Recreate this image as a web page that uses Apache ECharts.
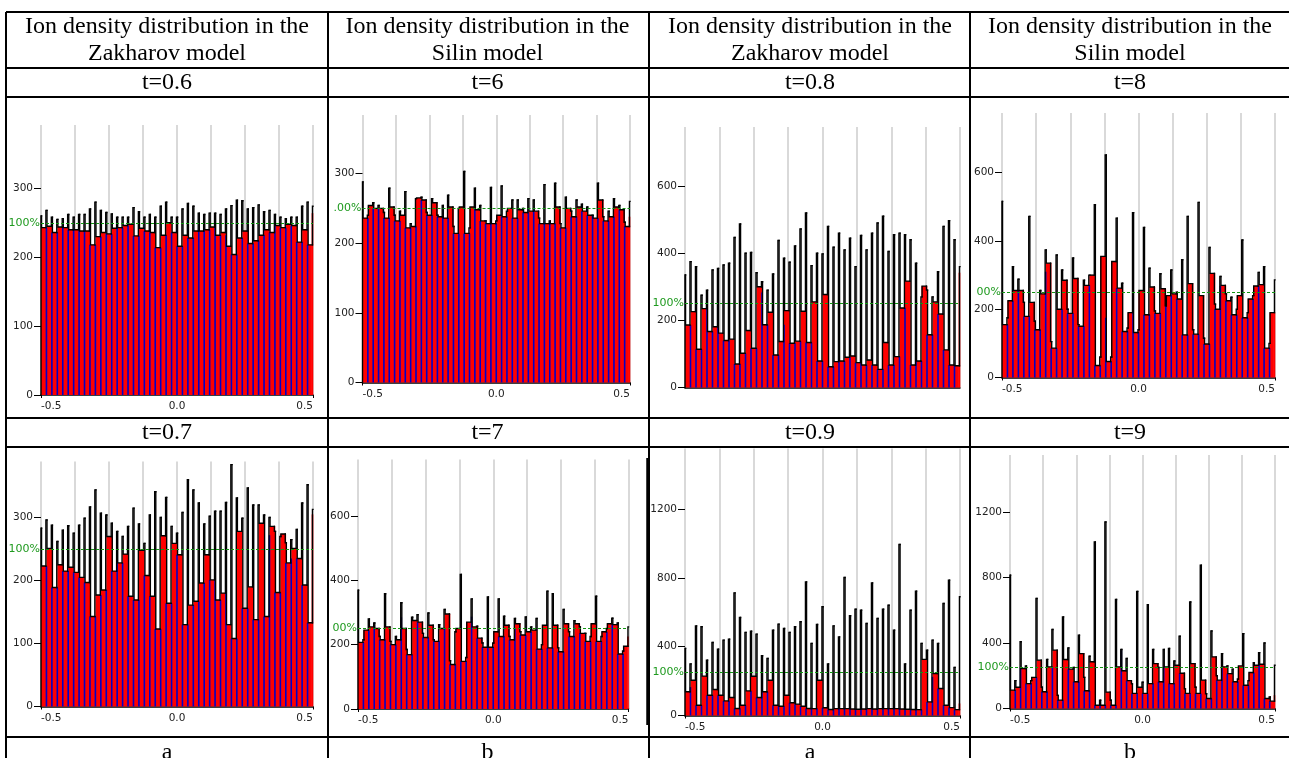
<!DOCTYPE html>
<html>
<head>
<meta charset="utf-8">
<style>html,body{margin:0;padding:0;background:#fff}#c{width:1289px;height:758px}</style>
<script src="https://cdn.jsdelivr.net/npm/echarts@6/dist/echarts.min.js"></script>
</head>
<body>
<div id="c"></div>
<script>
// Table text
const headerZakharov = ['Ion density distribution in the', 'Zakharov model'];
const headerSilin = ['Ion density distribution in the', 'Silin model'];
const timesTop = ['t=0.6', 't=6', 't=0.8', 't=8'];
const timesBottom = ['t=0.7', 't=7', 't=0.9', 't=9'];
const footers = ['a', 'b', 'a', 'b'];

// Axis labels
const xTickLabels = [-0.5, 0, 0.5];
const yTicks100 = [0, 100, 200, 300];
const yTicks200 = [0, 200, 400, 600];
const yTicks400 = [0, 400, 800, 1200];
const reference100 = 250;

// Panel a, t=0.6
const p1Peaks = [260,268,258,255,256,262,258,262,262,270,280,268,265,263,258,258,258,272,266,258,262,258,274,280,258,258,270,278,274,264,262,264,264,262,270,275,283,282,270,272,276,266,268,262,258,256,258,258,274,280,274];
const p1Lows = [243,245,236,244,243,240,240,238,238,218,230,236,234,242,243,246,248,231,242,238,236,214,232,250,236,216,232,228,238,238,240,244,232,236,216,204,228,238,220,224,232,240,236,246,243,248,246,222,240,218,264];
const p1Blue = [[14,250],[32,244],[34,232],[43,248]];
// Panel b, t=6
const p2Peaks = [288,240,258,254,244,279,240,246,274,228,264,266,244,264,240,254,269,224,250,303,222,279,254,232,280,232,282,246,262,262,250,264,262,236,284,232,286,228,266,246,262,256,252,240,286,238,246,264,254,230,260];
const p2Lows = [236,254,250,250,236,252,232,240,222,224,265,262,240,258,238,236,252,214,252,214,252,248,232,228,228,240,238,250,236,248,244,246,246,228,228,228,252,222,250,238,252,246,240,236,262,232,238,252,248,224,238];
const p2Blue = [[21,262],[24,258],[43,240]];
// Panel a, t=0.8
const p3Peaks = [335,375,360,275,290,350,355,365,370,447,487,400,402,342,315,290,338,438,385,373,422,472,520,363,400,398,480,418,460,410,445,360,453,410,460,490,510,405,455,460,455,440,370,270,290,270,345,480,497,440,360];
const p3Lows = [186,226,114,235,167,181,162,140,144,70,102,170,117,300,187,224,97,137,229,132,138,227,134,255,79,277,62,77,79,90,94,74,67,82,67,54,134,67,92,237,317,67,79,302,157,255,219,112,67,65,342];
const p3Blue = [[4,236],[6,200],[14,283],[18,187],[32,313],[42,313]];
// Panel b, t=8
const p4Peaks = [516,175,325,288,220,472,165,255,374,105,359,315,200,350,155,285,300,506,60,652,60,467,276,145,483,140,440,320,195,304,210,315,250,345,472,140,513,115,381,215,296,245,235,200,403,190,240,308,325,100,286];
const p4Lows = [155,225,255,255,179,220,140,245,335,86,200,285,188,290,150,270,300,35,355,47,340,262,135,190,132,255,184,265,188,260,240,245,230,125,275,127,240,98,305,200,270,225,184,240,175,230,268,272,86,190,190];
const p4Blue = [[8,310],[19,175],[24,245],[40,268]];
// Panel a, t=0.7
const p5Peaks = [283,296,288,262,280,287,275,288,299,317,344,307,304,291,278,270,286,315,290,259,304,341,300,332,286,275,308,360,344,323,290,302,310,310,324,384,331,299,347,320,320,304,300,278,270,260,265,281,323,352,313];
const p5Lows = [223,251,189,225,215,221,213,205,197,143,177,185,270,215,228,242,175,169,248,208,175,123,271,164,259,241,130,161,167,196,241,201,169,180,130,108,278,156,190,138,291,143,286,181,274,228,251,235,193,133,305];
const p5Blue = [[14,259],[32,259],[34,200],[42,272],[46,235]];
// Panel b, t=7
const p6Peaks = [369,215,280,267,225,358,210,225,330,185,285,293,235,298,215,262,309,150,240,418,160,342,257,205,348,205,342,288,225,281,240,286,255,281,200,366,358,190,309,240,274,255,235,225,350,225,250,282,267,180,255];
const p6Lows = [207,245,255,250,215,255,200,215,250,169,275,270,222,260,210,250,295,138,250,148,270,255,220,192,192,240,225,260,215,265,230,240,245,186,260,190,260,178,265,225,265,235,210,265,210,240,265,262,171,195,225];
const p6Blue = [[21,287],[29,250],[8,285]];
// Panel a, t=0.9
const p7Peaks = [390,300,521,516,322,424,386,438,444,713,570,483,490,473,347,331,496,531,506,483,516,545,777,419,529,632,300,521,457,802,580,618,612,535,771,564,618,641,496,994,300,612,723,419,380,438,419,651,787,280,690];
const p7Lows = [138,205,60,229,118,151,118,85,105,41,60,143,228,105,138,205,60,54,118,74,66,54,41,40,205,45,35,40,40,40,38,36,38,40,38,40,40,40,40,38,36,35,34,326,79,244,157,60,46,34,70];
const p7Blue = [[1,165],[14,310],[32,140],[45,225]];
// Panel b, t=9
const p8Peaks = [813,170,407,260,170,671,130,300,482,80,559,370,250,447,190,319,1016,50,1138,50,665,360,305,150,715,160,634,360,250,360,366,290,441,120,650,130,874,90,473,200,335,260,240,180,457,170,280,341,400,70,264];
const p8Lows = [112,130,244,152,190,295,102,254,356,51,299,240,163,335,108,285,20,20,100,20,254,230,170,92,130,92,152,274,163,254,152,264,215,92,274,92,173,61,315,173,254,213,163,260,142,220,264,270,61,45,81];
const p8Blue = [[2,254],[21,355],[29,254],[40,315],[47,270]];

// Panels: cell box, axis scale and text are layout, the arrays above are data.
const panels = [
  {peaks:p1Peaks,lows:p1Lows,blue:p1Blue,ticks:yTicks100,mark:'100%',x0:41,x1:313,top:125,y0:395,yMax:392,showX:true},
  {peaks:p2Peaks,lows:p2Lows,blue:p2Blue,ticks:yTicks100,mark:'.00%',x0:362.5,x1:630,top:115,y0:382.5,yMax:384,showX:true},
  {peaks:p3Peaks,lows:p3Lows,blue:p3Blue,ticks:yTicks200,mark:'100%',x0:685,x1:960,top:127,y0:387.5,yMax:776,showX:false},
  {peaks:p4Peaks,lows:p4Lows,blue:p4Blue,ticks:yTicks200,mark:'00%',x0:1002,x1:1275,top:113,y0:377.5,yMax:775,showX:true},
  {peaks:p5Peaks,lows:p5Lows,blue:p5Blue,ticks:yTicks100,mark:'100%',x0:41,x1:313,top:461.5,y0:706.5,yMax:389,showX:true},
  {peaks:p6Peaks,lows:p6Lows,blue:p6Blue,ticks:yTicks200,mark:'00%',x0:358,x1:628.5,top:459.5,y0:709,yMax:775,showX:true},
  {peaks:p7Peaks,lows:p7Lows,blue:p7Blue,ticks:yTicks400,mark:'100%',x0:685,x1:960,top:448.5,y0:715.5,yMax:1552,showX:true},
  {peaks:p8Peaks,lows:p8Lows,blue:p8Blue,ticks:yTicks400,mark:'100%',x0:1010,x1:1275,top:455,y0:708.5,yMax:1547,showX:true}
];

const W = 1289, H = 758;
const spikeHalf = 0.002;
const grid = [], xAxis = [], yAxis = [], series = [];
const tickFont = {fontFamily:'"DejaVu Sans", sans-serif', fontSize:10.5, color:'#222'};

// One red cell: item is [xStart, xEnd, height]
function renderRedCell(params, api) {
  const a = api.coord([api.value(0), api.value(2)]);
  const b = api.coord([api.value(1), 0]);
  return {type:'rect', shape:{x:a[0], y:a[1], width:b[0] - a[0] + 0.3, height:b[1] - a[1]},
    style:{fill:'#ff0000', stroke:null}, silent:true};
}
// One step of the black outline: item is [xStart, xEnd, height, previous height]
function renderOutlineStep(params, api) {
  const p0 = api.coord([api.value(0), api.value(3)]);
  const p1 = api.coord([api.value(0), api.value(2)]);
  const p2 = api.coord([api.value(1), api.value(2)]);
  return {type:'polyline', shape:{points:[p0, p1, p2]},
    style:{stroke:'#000', fill:null, lineWidth:1.4, lineJoin:'miter', lineCap:'square'}, silent:true};
}

panels.forEach(function (p, i) {
  grid.push({left:p.x0, right:W - p.x1, top:p.top, bottom:H - p.y0, containLabel:false});
  // Gray reference lines and axis line
  xAxis.push({type:'value', gridIndex:i, min:-0.5, max:0.5, interval:0.125, position:'bottom',
    axisLine:{onZero:false, lineStyle:{color:'#000', width:1.5}}, axisTick:{show:false}, axisLabel:{show:false},
    splitLine:{show:true, lineStyle:{color:'#cdcdcd', width:1.5}}});
  // End ticks and three labels
  xAxis.push({type:'value', gridIndex:i, min:-0.5, max:0.5, position:'bottom', show:p.showX,
    axisLine:{show:false}, splitLine:{show:false},
    axisTick:{show:true, length:3, customValues:[-0.5, 0.5], lineStyle:{color:'#000', width:1}},
    axisLabel:Object.assign({show:true, margin:6, customValues:xTickLabels, alignMinLabel:'left', alignMaxLabel:'right',
      formatter:function (v) { return Number(v).toFixed(1); }}, tickFont)});
  yAxis.push({type:'value', gridIndex:i, min:0, max:p.yMax, position:'left',
    axisLine:{show:false, onZero:false}, splitLine:{show:false},
    axisTick:{show:true, length:7, customValues:p.ticks, lineStyle:{color:'#000', width:1}},
    axisLabel:Object.assign({show:true, margin:8, customValues:p.ticks, formatter:function (v) { return String(v); }}, tickFont)});

  const xa = i * 2;
  const blueOver = {};
  p.blue.forEach(function (b) { blueOver[b[0]] = b[1]; });
  const peakX = p.peaks.map(function (_, k) { return -0.5 + 0.02 * k; });
  // red: one height per cell, last entry is the half bin on the right edge
  const redData = p.lows.map(function (v, k) {
    if (k === 50) return [0.495, 0.5, v];
    return [peakX[k], k === 49 ? 0.495 : peakX[k + 1], v];
  });
  // blue stripes: under each inner spike, height of the lower neighbour unless read separately
  const blueData = [];
  p.peaks.forEach(function (_, k) {
    if (k === 0 || k === 50) return;
    blueData.push([peakX[k], k in blueOver ? blueOver[k] : Math.min(p.lows[k - 1], p.lows[k])]);
  });
  // black outline: rises from the axis, then narrow spike, cell, spike, cell ...
  const outline = [];
  let prev = 0;
  p.peaks.forEach(function (v, k) {
    const left = Math.max(-0.5, peakX[k] - spikeHalf);
    const right = k < 50 ? peakX[k] + spikeHalf : 0.5;
    outline.push([left, right, v, prev]);
    if (k < 50) {
      outline.push([right, peakX[k + 1] - spikeHalf, p.lows[k], v]);
      prev = p.lows[k];
    }
  });
  series.push({type:'custom', xAxisIndex:xa, yAxisIndex:i, data:redData, encode:{x:[0, 1], y:2}, renderItem:renderRedCell,
    silent:true, clip:false, z:2});
  series.push({type:'bar', xAxisIndex:xa, yAxisIndex:i, data:blueData, barWidth:1.6, silent:true,
    itemStyle:{color:'#0000c8'}, z:3,
    markLine:{silent:true, symbol:'none', animation:false, z:6, data:[{yAxis:reference100}],
      lineStyle:{color:'#129412', type:[3,2], width:1.2},
      label:{show:true, position:'start', formatter:p.mark, distance:1, color:'#1f9a1f', fontSize:11, fontFamily:'"DejaVu Sans", sans-serif'}}});
  series.push({type:'custom', xAxisIndex:xa, yAxisIndex:i, data:outline, encode:{x:[0, 1], y:2}, renderItem:renderOutlineStep,
    silent:true, clip:false, z:4});
});

// Table rules
const hRules = [[6,1289,12],[6,1289,68],[6,1289,97],[6,1289,418],[6,1289,447],[6,1289,737]];
const vRules = [[6,12,758],[328,12,758],[649,12,758],[970,12,758]];
const graphic = [];
hRules.forEach(function (r) { graphic.push({type:'line', shape:{x1:r[0],y1:r[2],x2:r[1],y2:r[2]}, style:{stroke:'#000',lineWidth:2}, z:20}); });
vRules.forEach(function (r) { graphic.push({type:'line', shape:{x1:r[0],y1:r[1],x2:r[0],y2:r[2]}, style:{stroke:'#000',lineWidth:2}, z:20}); });
graphic.push({type:'line', shape:{x1:647.5,y1:458,x2:647.5,y2:725}, style:{stroke:'#000',lineWidth:2.5}, z:20});

const colCentre = [167, 487.5, 810, 1130];
function cellText(t, x, y) {
  graphic.push({type:'text', x:x, y:y, z:21, style:{text:t, fill:'#000', align:'center', verticalAlign:'middle',
    font:'24px "Liberation Serif", serif'}});
}
[headerZakharov, headerSilin, headerZakharov, headerSilin].forEach(function (h, c) {
  cellText(h[0], colCentre[c], 27);
  cellText(h[1], colCentre[c], 54);
  cellText(timesTop[c], colCentre[c], 83);
  cellText(timesBottom[c], colCentre[c], 433);
  cellText(footers[c], colCentre[c], 753);
});

const chart = echarts.init(document.getElementById('c'), null, {renderer:'canvas', width:W, height:H});
chart.setOption({animation:false, backgroundColor:'#fff', grid:grid, xAxis:xAxis, yAxis:yAxis, series:series, graphic:graphic});
</script>
</body>
</html>
